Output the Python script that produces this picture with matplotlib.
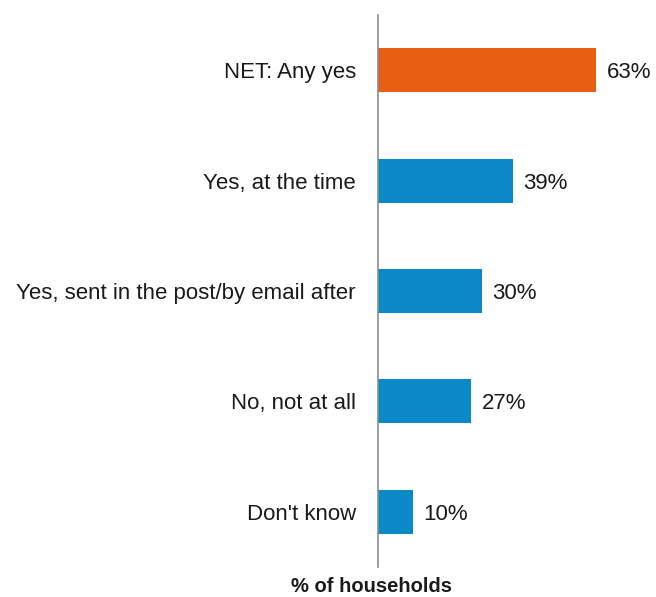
import matplotlib
import matplotlib.pyplot as plt

matplotlib.use("Agg")
plt.rcParams["font.family"] = ["Liberation Sans", "DejaVu Sans"]

categories = [
    "NET: Any yes",
    "Yes, at the time",
    "Yes, sent in the post/by email after",
    "No, not at all",
    "Don't know",
]
values = [63, 39, 30, 27, 10]
colors = ["#E85E13", "#0A88C8", "#0A88C8", "#0A88C8", "#0A88C8"]

fig = plt.figure(figsize=(6.56, 5.97), dpi=100)
ax = fig.add_axes([378 / 656, 1 - 567 / 597, 1 - 378 / 656, 552 / 597])

ypos = list(range(len(categories)))
ax.barh(ypos, values, height=0.4, color=colors)
ax.set_ylim(len(categories) - 0.5, -0.5)
ax.set_xlim(0, 80.3)

for y, v in zip(ypos, values):
    ax.text(v + 3.0, y, f"{v}%", va="center_baseline", ha="left", fontsize=16, color="#1a1a1a")

ax.set_yticks(ypos)
ax.set_yticklabels(categories, fontsize=16, color="#1a1a1a", va="center_baseline")
ax.tick_params(axis="y", length=0, pad=16)
ax.set_xticks([])

for side in ["top", "right", "bottom"]:
    ax.spines[side].set_visible(False)
ax.spines["left"].set_color("#8c8c8c")
ax.spines["left"].set_linewidth(1.2)

fig.text(372 / 656, 1 - 587 / 597, "% of households", ha="center", va="center",
         fontsize=14.5, fontweight="bold", color="#1a1a1a")

fig.savefig("out.png", dpi=100)
